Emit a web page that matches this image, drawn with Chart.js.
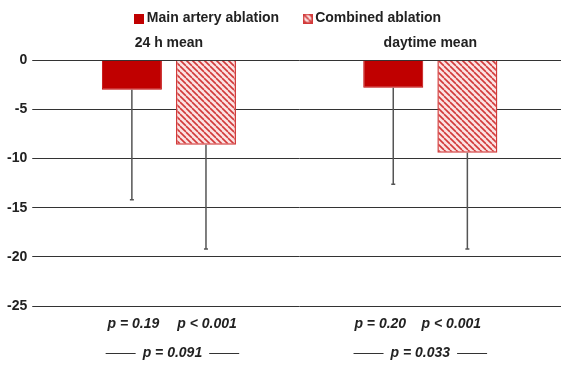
<!DOCTYPE html>
<html>
<head>
    <title>Ablation mean change chart</title>
    <script src="https://cdn.jsdelivr.net/npm/chart.js"></script>
    <style>
        body { margin: 0; background: #fff; }
        #wrap { width: 566px; height: 367px; position: relative; }
    </style>
</head>
<body>
    <div id="wrap"><canvas id="ablationChart"></canvas></div>
    <script>
        // data
        const categories = ['24 h mean', 'daytime mean'];
        const seriesNames = ['Main artery ablation', 'Combined ablation'];
        const mainValues = [-3.0, -2.8];
        const combinedValues = [-8.6, -9.4];
        // lower end of the (one sided) error bars
        const mainErrorEnds = [-14.2, -12.6];
        const combinedErrorEnds = [-19.2, -19.2];
        const yTicks = [0, -5, -10, -15, -20, -25];
        const pEach = [['p = 0.19', 'p < 0.001'], ['p = 0.20', 'p < 0.001']];
        const pBetween = ['p = 0.091', 'p = 0.033'];

        const FONT = "'Liberation Sans', Arial, sans-serif";
        const red = '#c00000';
        const hatchRed = '#d23a3a';

        // diagonal hatch for the combined ablation bars
        function makeHatch() {
            const c = document.createElement('canvas');
            c.width = 6; c.height = 6;
            const g = c.getContext('2d');
            g.fillStyle = '#fbe3e3';
            g.fillRect(0, 0, 6, 6);
            g.strokeStyle = hatchRed;
            g.lineWidth = 1.6;
            for (let k = -1; k <= 1; k++) {
                g.beginPath();
                g.moveTo(k * 6, 0);
                g.lineTo(k * 6 + 6, 6);
                g.stroke();
            }
            return g.createPattern(c, 'repeat');
        }

        // little legend squares, drawn as point style images
        function makeBox(fill, stroke) {
            const c = document.createElement('canvas');
            c.width = 10; c.height = 10;
            const g = c.getContext('2d');
            g.fillStyle = fill;
            g.fillRect(0, 0, 10, 10);
            g.strokeStyle = stroke;
            g.lineWidth = 1.5;
            g.strokeRect(0.75, 0.75, 8.5, 8.5);
            return c;
        }

        const errorBars = {
            id: 'errorBars',
            afterDatasetsDraw(chart) {
                const ctx = chart.ctx;
                const y = chart.scales.y;
                const ends = [mainErrorEnds, combinedErrorEnds];
                ctx.save();
                ctx.strokeStyle = '#555';
                ctx.lineWidth = 1.5;
                chart.data.datasets.forEach((ds, i) => {
                    chart.getDatasetMeta(i).data.forEach((bar, j) => {
                        const yEnd = y.getPixelForValue(ends[i][j]);
                        ctx.beginPath();
                        ctx.moveTo(bar.x, bar.y);
                        ctx.lineTo(bar.x, yEnd);
                        ctx.moveTo(bar.x - 2, yEnd);
                        ctx.lineTo(bar.x + 2, yEnd);
                        ctx.stroke();
                    });
                });
                ctx.restore();
            }
        };

        const pValues = {
            id: 'pValues',
            afterLayout(chart) {
                // legend sits a little right of where chart.js centres it
                chart.legend.left += 17;
            },
            afterDraw(chart) {
                const ctx = chart.ctx;
                const x = chart.scales.x;
                const nudge1 = [[1.5, 1], [-13, -16]];
                const nudge2 = [3.5, -10];
                ctx.save();
                ctx.fillStyle = '#222';
                ctx.strokeStyle = '#333';
                ctx.lineWidth = 1;
                ctx.font = 'italic bold 14px ' + FONT;
                ctx.textAlign = 'center';
                ctx.textBaseline = 'middle';
                categories.forEach((c, j) => {
                    // one p value under each bar
                    chart.data.datasets.forEach((ds, i) => {
                        const bar = chart.getDatasetMeta(i).data[j];
                        ctx.fillText(pEach[j][i], bar.x + nudge1[j][i], 324);
                    });
                    // comparison between the two bars
                    const tx = x.getPixelForValue(j) + nudge2[j];
                    ctx.fillText(pBetween[j], tx, 353);
                    const half = ctx.measureText(pBetween[j]).width / 2;
                    ctx.beginPath();
                    ctx.moveTo(tx - half - 37, 353.5);
                    ctx.lineTo(tx - half - 7, 353.5);
                    ctx.moveTo(tx + half + 7, 353.5);
                    ctx.lineTo(tx + half + 37, 353.5);
                    ctx.stroke();
                });
                ctx.restore();
            }
        };

        const ctx = document.getElementById('ablationChart').getContext('2d');
        const hatch = makeHatch();
        const legendBoxes = [makeBox(red, red), makeBox(hatch, hatchRed)];

        const data = {
            labels: categories,
            datasets: [{
                label: seriesNames[0],
                data: mainValues,
                backgroundColor: red,
                borderColor: red,
                borderWidth: 1,
                barPercentage: 0.81,
                categoryPercentage: 0.567
            }, {
                label: seriesNames[1],
                data: combinedValues,
                backgroundColor: hatch,
                borderColor: hatchRed,
                borderWidth: 1.5,
                barPercentage: 0.81,
                categoryPercentage: 0.567
            }]
        };

        const config = {
            type: 'bar',
            data: data,
            plugins: [errorBars, pValues],
            options: {
                responsive: true,
                maintainAspectRatio: false,
                animation: false,
                layout: { padding: { top: -16.5, left: 2, right: 5, bottom: 61 } },
                plugins: {
                    tooltip: { enabled: false },
                    legend: {
                        position: 'top',
                        labels: {
                            usePointStyle: true,
                            pointStyleWidth: 1,
                            boxHeight: 10,
                            padding: 28,
                            color: '#222',
                            font: { family: FONT, size: 14, weight: 'bold' },
                            generateLabels(chart) {
                                const items = Chart.defaults.plugins.legend.labels.generateLabels(chart);
                                items.forEach((it, i) => { it.pointStyle = legendBoxes[i]; });
                                return items;
                            }
                        }
                    }
                },
                scales: {
                    x: {
                        position: 'top',
                        grid: { display: false, drawTicks: false },
                        border: { display: false },
                        afterFit(axis) {
                            axis.height -= 10;
                        },
                        ticks: {
                            padding: 9,
                            color: '#222',
                            font: { family: FONT, size: 14, weight: 'bold' }
                        }
                    },
                    y: {
                        min: yTicks[yTicks.length - 1],
                        max: yTicks[0],
                        afterBuildTicks(axis) {
                            axis.ticks = yTicks.map(v => ({ value: v }));
                        },
                        grid: { color: '#333', tickLength: 6, lineWidth: 1 },
                        border: { display: false },
                        ticks: {
                            padding: 5,
                            color: '#222',
                            font: { family: FONT, size: 14, weight: 'bold' }
                        }
                    }
                }
            }
        };
        const ablationChart = new Chart(ctx, config);
    </script>
</body>
</html>
